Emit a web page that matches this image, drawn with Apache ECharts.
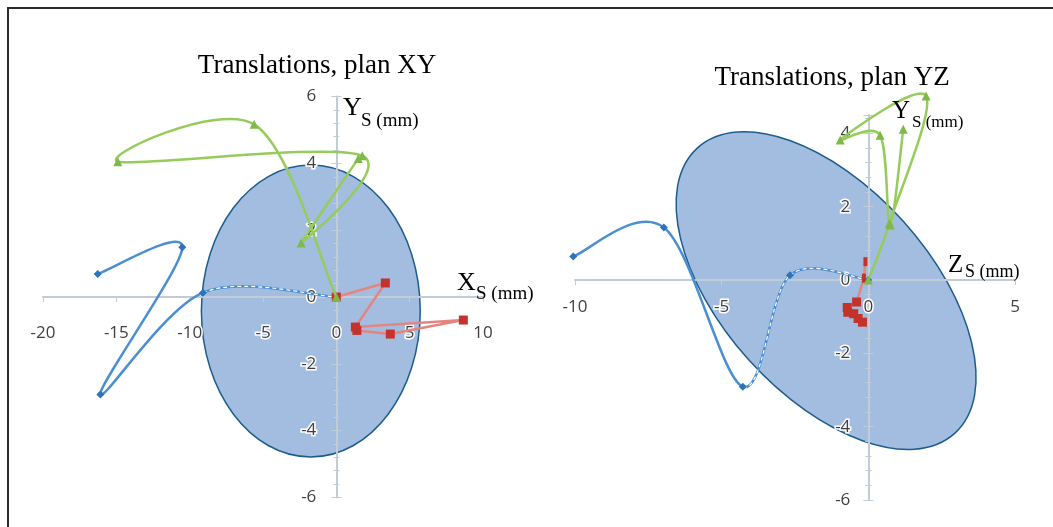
<!DOCTYPE html>
<html>
<head>
<meta charset="UTF-8">
<title>Translations</title>
<script src="https://cdn.jsdelivr.net/npm/echarts@6/dist/echarts.min.js"></script>
<style>
html, body { margin: 0; padding: 0; background: #fff; }
#chart { width: 1053px; height: 527px; }
</style>
</head>
<body>
<div id="chart"></div>
<script>
// plan XY : [X (mm), Y (mm)]
var blueXY  = [[-16.27, 0.69], [-10.5, 1.49], [-16.09, -2.92], [-9.09, 0.13], [0, 0]];
var redXY   = [[0, 0], [3.34, 0.42], [1.3, -0.9], [8.66, -0.69], [3.68, -1.11], [1.4, -1.0]];
var greenXY = [[0, 0], [-5.6, 5.17], [-14.9, 4.05], [1.77, 4.23], [-2.4, 1.62], [1.5, 4.15]];
// plan YZ : [Z (mm), Y (mm)]
var blueYZ  = [[-10.06, 0.64], [-6.97, 1.43], [-4.28, -2.91], [-2.67, 0.13], [0, 0]];
var redYZ   = [[-0.1, 0.5], [-0.15, 0.05], [-0.4, -0.6], [-0.72, -0.75], [-0.5, -0.92], [-0.7, -0.88], [-0.35, -1.05], [-0.2, -1.15]];
var greenYZ = [[0, 0], [0.72, 1.55], [1.97, 5.02], [-0.96, 3.82], [0.4, 3.95], [0.74, 1.5], [1.19, 4.11]];
// ellipses : centre x, centre y, semi-axis a, semi-axis b, tilt (deg)
// (tilted one : both semi-axes given in horizontal axis units)
var ellipseXY = [[-1.74, -0.42, 7.46, 4.37, 0]];
var ellipseYZ = [[-1.44, -0.29, 6.55, 3.54, 48]];
// index of the point where the white dashed part of the blue path starts
var dashFromXY = 3;
var dashFromYZ = 2;

// [min, max, interval]
var xTicksXY = [-20, 10, 5];
var yTicksXY = [-6, 6, 2];
var xTicksYZ = [-10, 5, 5];
var yTicksYZ = [-6, 4.5, 2];

var grids = [
	{ left: 43, width: 440, top: 96.6, height: 400.8 },
	{ left: 575, width: 440, top: 115, height: 385 }
];

var axisColor = '#c2ccd6';
var labelStyle = {
	fontFamily: 'Open Sans',
	fontSize: 17,
	color: '#404040',
	textBorderColor: '#fff',
	textBorderWidth: 3
};

function drawEllipse(params, api) {
	var c = api.coord([api.value(0), api.value(1)]);
	var tilt = api.value(4);
	var r;
	if(tilt) {
		r = [api.size([api.value(2), 0])[0], api.size([api.value(3), 0])[0]];
	} else {
		r = api.size([api.value(2), api.value(3)]);
	}
	return {
		type: 'ellipse',
		x: c[0],
		y: c[1],
		rotation: -tilt * Math.PI / 180,
		shape: { cx: 0, cy: 0, rx: r[0], ry: r[1] },
		style: { fill: '#a3bde0', stroke: '#1d5d8e', lineWidth: 1.5 }
	};
}

// smoothed path like the spreadsheet one (catmull-rom), drawn once for the whole series
function smoothPath(points, dashFrom, color, width) {
	var k = 1 / 6;
	return function(params, api) {
		if(params.dataIndex !== 0) return null;
		var p = points.map(function(d) { return api.coord(d); });
		var segs = [], dash = [];
		for(var i = 0; i < p.length - 1; i++) {
			var p0 = p[Math.max(i - 1, 0)], p1 = p[i], p2 = p[i + 1], p3 = p[Math.min(i + 2, p.length - 1)];
			var shape = {
				x1: p1[0], y1: p1[1], x2: p2[0], y2: p2[1],
				cpx1: p1[0] + (p2[0] - p0[0]) * k, cpy1: p1[1] + (p2[1] - p0[1]) * k,
				cpx2: p2[0] - (p3[0] - p1[0]) * k, cpy2: p2[1] - (p3[1] - p1[1]) * k
			};
			segs.push({ type: 'bezierCurve', shape: shape, style: { stroke: color, lineWidth: width, fill: 'none' } });
			if(dashFrom != null && i >= dashFrom) {
				dash.push({ type: 'bezierCurve', shape: shape, style: { stroke: '#ffffff', lineWidth: 1.2, lineDash: [4, 3], fill: 'none' } });
			}
		}
		return { type: 'group', children: segs.concat(dash) };
	};
}

// axes cross at the origin : shift them from the grid edge with offset
function xAx(idx, xt, yt, margin) {
	var g = grids[idx];
	var shift = g.height * (0 - yt[0]) / (yt[1] - yt[0]);
	return {
		type: 'value', gridIndex: idx, min: xt[0], max: xt[1], interval: xt[2],
		position: 'bottom', offset: -shift,
		axisLine: { onZero: false, lineStyle: { color: axisColor, width: 2 } },
		axisTick: { show: true, length: 5, lineStyle: { color: axisColor } },
		axisLabel: Object.assign({ margin: margin }, labelStyle),
		splitLine: { show: false }
	};
}

function yAx(idx, xt, yt, margin, inner) {
	var g = grids[idx];
	var shift = g.width * (0 - xt[0]) / (xt[1] - xt[0]);
	return {
		type: 'value', gridIndex: idx, min: yt[0], max: yt[1], interval: yt[2],
		position: 'left', offset: -shift,
		axisLine: { show: !inner, onZero: false, lineStyle: { color: axisColor, width: 2 } },
		axisTick: { show: true, inside: !!inner, length: 5, lineStyle: { color: axisColor } },
		minorTick: { show: true, splitNumber: 5, length: 3, lineStyle: { color: axisColor } },
		axisLabel: Object.assign({
			show: !inner,
			margin: margin,
			formatter: function(v) { return v % 2 === 0 ? String(v) : ''; }
		}, labelStyle),
		splitLine: { show: false }
	};
}

function pathSeries(idx, data, dashFrom, color, width, z) {
	return {
		type: 'custom', xAxisIndex: idx, yAxisIndex: idx, data: data, silent: true, z: z,
		renderItem: smoothPath(data, dashFrom, color, width)
	};
}

function marks(idx, data, symbol, size, color, z) {
	return {
		type: 'scatter', xAxisIndex: idx, yAxisIndex: idx, data: data, silent: true, z: z,
		symbol: symbol, symbolSize: size, itemStyle: { color: color, opacity: 1 }, clip: false
	};
}

function redLine(idx, data) {
	return {
		type: 'line', xAxisIndex: idx, yAxisIndex: idx, data: data,
		symbol: 'rect', clip: false, silent: true,
		symbolSize: function(v, p) { return idx === 1 && p.dataIndex < 2 ? [4, 9] : 9; },
		itemStyle: { color: '#c4322c' },
		lineStyle: { color: '#e58580', width: 2.5 },
		z: 5
	};
}

function txt(s, x, y, size, align) {
	return {
		type: 'text', x: x, y: y, silent: true, z: 100,
		style: {
			text: s, fill: '#000',
			font: size + 'px "Liberation Serif", "DejaVu Serif", serif',
			textAlign: align || 'left', textVerticalAlign: 'middle'
		}
	};
}

var chart = echarts.init(document.getElementById('chart'), null, { renderer: 'canvas' });

var option = {
	animation: false,
	backgroundColor: '#fff',
	grid: grids,
	xAxis: [xAx(0, xTicksXY, yTicksXY, 28), xAx(1, xTicksYZ, yTicksYZ, 19)],
	yAxis: [
		yAx(0, xTicksXY, yTicksXY, 20), yAx(1, xTicksYZ, yTicksYZ, 18),
		// second set of ticks so they cross the vertical axes
		yAx(0, xTicksXY, yTicksXY, 20, true), yAx(1, xTicksYZ, yTicksYZ, 18, true)
	],
	series: [
		{ type: 'custom', xAxisIndex: 0, yAxisIndex: 0, data: ellipseXY, renderItem: drawEllipse, z: -1, silent: true },
		pathSeries(0, blueXY, dashFromXY, '#4a8fd2', 2.5, 3),
		marks(0, blueXY, 'diamond', 8, '#2e73b8', 4),
		redLine(0, redXY),
		pathSeries(0, greenXY, null, '#96cc5c', 2.5, 6),
		marks(0, greenXY, 'triangle', 9, '#7fb948', 7),
		{ type: 'custom', xAxisIndex: 1, yAxisIndex: 1, data: ellipseYZ, renderItem: drawEllipse, z: -1, silent: true },
		pathSeries(1, blueYZ, dashFromYZ, '#4a8fd2', 2.5, 3),
		marks(1, blueYZ, 'diamond', 8, '#2e73b8', 4),
		redLine(1, redYZ),
		pathSeries(1, greenYZ, null, '#96cc5c', 2.5, 6),
		marks(1, greenYZ, 'triangle', 9, '#7fb948', 7)
	],
	graphic: [
		{
			type: 'rect', silent: true, z: 100,
			shape: { x: 8, y: 8, width: 1200, height: 700 },
			style: { fill: 'none', stroke: '#2b2b2b', lineWidth: 2 }
		},
		txt('Translations, plan XY', 317, 66, 27, 'center'),
		txt('Translations, plan YZ', 832, 78, 27, 'center'),
		txt('Y', 343, 108, 26), txt('S (mm)', 361, 121, 19),
		txt('X', 457, 283, 26), txt('S (mm)', 476, 294, 19),
		txt('Y', 892, 111, 25), txt('S (mm)', 912, 123, 17),
		txt('Z', 948, 265, 25), txt('S (mm)', 965, 272, 18)
	]
};

chart.setOption(option);
</script>
</body>
</html>
